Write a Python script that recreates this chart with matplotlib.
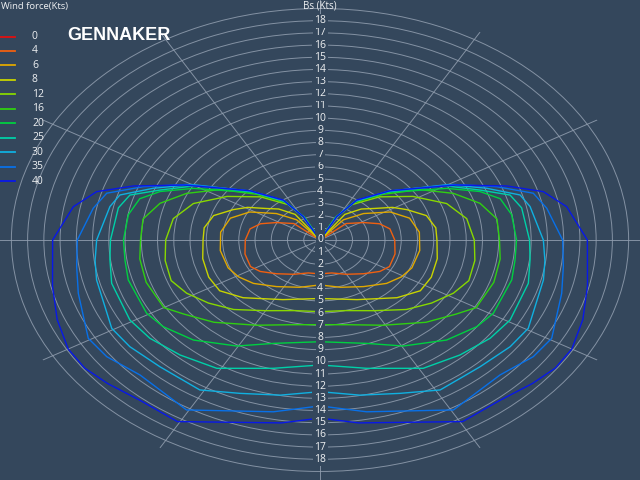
import numpy as np
import matplotlib
matplotlib.use('Agg')
import matplotlib.pyplot as plt
from matplotlib.lines import Line2D

# ---------------- data (true wind angle in degrees, boat speed in knots) -------------
wind_speeds = [0, 4, 6, 8, 12, 16, 20, 25, 30, 35, 40]
legend_labels = ['0', '4', '6', '8', '12', '16', '20', '25', '30', '35', '40']

twa_0 = [0, 180]
bs_0 = [0, 0]

twa_4 = [0, 50, 62, 70, 78, 90, 104, 117, 125, 136, 150, 165, 180]
bs_4 = [0, 2.1, 3.05, 3.9, 4.4, 4.6, 4.76, 4.8, 4.5, 3.85, 3.25, 2.8, 2.78]

twa_6 = [0, 41, 51, 62, 72, 84, 98, 112, 121, 131, 145, 162, 180]
bs_6 = [0, 2.2, 3.45, 4.9, 5.8, 6.15, 6.2, 6.1, 5.86, 5.43, 4.67, 4.08, 3.69]

twa_8 = [0, 36, 45, 52, 59, 65, 73, 82, 90, 102, 114, 124, 135, 155, 180]
bs_8 = [0, 2.6, 3.6, 4.2, 5.2, 5.9, 6.85, 7.2, 7.2, 7.38, 7.5, 7.45, 6.7, 5.4, 4.8]

twa_12 = [0, 27, 34, 46, 58, 69, 79, 90, 100, 110, 118, 127, 137, 150, 165, 180]
bs_12 = [0, 1.9, 3.5, 5.1, 6.75, 8.35, 9.2, 9.5, 9.68, 9.75, 9.3, 8.6, 7.8, 6.7, 6.0, 5.88]

twa_16 = [0, 27, 34, 46, 56, 65, 73, 81, 90, 98, 108, 120, 126, 136, 151, 165, 180]
bs_16 = [0, 2.0, 3.7, 5.4, 7.4, 9.06, 10.3, 11.03, 11.05, 11.2, 11.25, 11.1, 10.35, 9.39, 8.0, 7.2, 6.95]

twa_20 = [0, 27, 34, 46, 61.5, 68, 73, 80, 90, 98, 105.5, 119.4, 126.4, 136.5, 149.5, 161.3, 180]
bs_20 = [0, 2.05, 3.8, 5.6, 8.88, 10.62, 11.6, 11.98, 12.1, 12.12, 12.25, 12.25, 11.99, 11.32, 10.1, 8.96, 8.35]

twa_25 = [0, 28, 34.5, 46.5, 60, 67.4, 72.5, 78, 90, 97, 105.5, 119.3, 127.6, 137.6, 148.9, 164.7, 180]
bs_25 = [0, 2.1, 3.85, 5.75, 8.9, 10.67, 12.27, 12.69, 12.9, 13.03, 13.31, 13.42, 13.22, 12.78, 12.3, 10.92, 10.26]

twa_30 = [0, 28, 34.5, 46.5, 60, 67.5, 73.3, 78, 90, 97, 103.4, 119.5, 126.8, 136.6, 149, 158.6, 169.1, 180]
bs_30 = [0, 2.15, 3.9, 5.8, 9.1, 11.1, 12.86, 13.22, 13.75, 13.95, 14.14, 14.73, 14.62, 14.33, 14.36, 13.52, 12.97, 12.45]

twa_35 = [0, 28, 34.6, 46.8, 61, 68.1, 73.7, 79.4, 90, 98.3, 106.4, 119.5, 126.1, 135, 149.5, 168.5, 180]
bs_35 = [0, 2.17, 3.95, 5.88, 9.4, 11.73, 13.68, 14.2, 14.94, 15.14, 15.51, 16.39, 16.25, 15.67, 16.19, 14.39, 13.62]

twa_40 = [0, 28.3, 34.6, 46.8, 61.8, 68.9, 73.9, 79.8, 90, 103, 112, 120, 126, 132, 140, 149.5, 171, 180]
bs_40 = [0, 2.17, 3.99, 5.91, 9.55, 12.32, 14.31, 15.43, 16.46, 16.9, 17.45, 17.9, 17.9, 17.6, 17.2, 17.3, 15.2, 14.62]

series_twa = [twa_0, twa_4, twa_6, twa_8, twa_12, twa_16, twa_20, twa_25, twa_30, twa_35, twa_40]
series_bs = [bs_0, bs_4, bs_6, bs_8, bs_12, bs_16, bs_20, bs_25, bs_30, bs_35, bs_40]

ring_values = list(range(1, 20))
label_values = list(range(1, 19))

# ---------------- styles -------------
bg = '#34475c'
grid_col = '#929fb0'
text_col = '#eef0f2'
colors = ['#e01010', '#f06010', '#e0a800', '#c8d400', '#88d800', '#30d010',
          '#00d040', '#00d0a8', '#10b0e0', '#0870e8', '#0818e8']
font = 'Open Sans'

fig = plt.figure(figsize=(6.4, 4.8), dpi=100, facecolor=bg)
ax = fig.add_axes([0, 0, 1, 1], projection='polar')
ax.set_aspect('auto')
ax.set_facecolor(bg)
ax.set_theta_zero_location('N')
ax.set_theta_direction(-1)
ax.set_ylim(0, 19.7)
ax.set_rticks(ring_values)
ax.set_yticklabels([])
ax.set_thetagrids(list(range(0, 360, 30)), labels=[''] * 12)
ax.grid(True, color=grid_col, linewidth=0.7, alpha=0.85)
ax.spines['polar'].set_visible(False)

for twa, bs, c in zip(series_twa, series_bs, colors):
    t = np.radians(np.array(twa, dtype=float))
    ax.plot(t, bs, color=c, lw=1.0, zorder=3)
    ax.plot(2 * np.pi - t, bs, color=c, lw=1.0, zorder=3)

# speed labels along the vertical axis
box = dict(boxstyle='square,pad=0.15', fc=bg, ec='none')
for k in label_values:
    for th in (0.0, np.pi):
        ax.text(th, k, str(k), ha='center', va='center', fontsize=7.5,
                color=text_col, family=font, bbox=box, zorder=5)
ax.text(0, 0, '0', ha='center', va='center', fontsize=7.5, color=text_col,
        family=font, bbox=box, zorder=5)
fig.text(0.5, 1 - 6 / 480, 'Bs (Kts)', ha='center', va='center', fontsize=7,
         color=text_col, family=font)

# title
fig.text(67 / 640, 1 - 36 / 480, 'GENNAKER', ha='left', va='center', fontsize=13,
         fontweight='bold', color='white', family='Liberation Sans')

# legend
fig.text(1 / 640, 1 - 6 / 480, 'Wind force(Kts)', ha='left', va='center',
         fontsize=6.8, color=text_col, family=font)
y0, dy = 36.5, 14.45
for i, (lab, c) in enumerate(zip(legend_labels, colors)):
    y = 1 - (y0 + i * dy) / 480
    fig.add_artist(Line2D([0, 15 / 640], [y, y], color=c, lw=1.3,
                          transform=fig.transFigure))
    fig.text(32 / 640, y, lab, ha='left', va='center', fontsize=7.5,
             color=text_col, family=font)

fig.savefig('out.png', dpi=100, facecolor=bg)
